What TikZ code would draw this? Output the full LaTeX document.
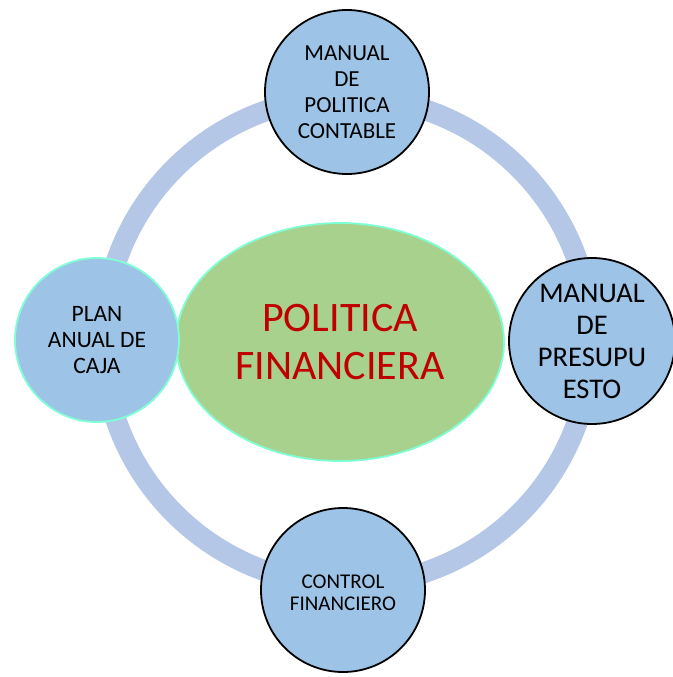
\documentclass[tikz,border=0pt]{standalone}
\usepackage{fontspec}
\setmainfont{Carlito}
\usetikzlibrary{shapes.geometric}
\definecolor{nodeblue}{HTML}{9DC3E6}
\definecolor{ringblue}{HTML}{B4C7E7}
\definecolor{ellgreen}{HTML}{A9D18E}
\definecolor{aquaedge}{HTML}{7FFFD4}
\definecolor{darkred}{HTML}{C00000}
\begin{document}
\begin{tikzpicture}[x=1pt,y=-1pt,
  satellite/.style={circle,fill=nodeblue,draw=black,line width=1.8pt,
    minimum size=164pt,inner sep=0pt,align=center,text=black,
    font=\fontsize{23}{26}\selectfont},
  bigtext/.style={font=\fontsize{28.5}{32}\selectfont},
  centre/.style={ellipse,fill=ellgreen,draw=aquaedge,line width=1.8pt,
    minimum width=328pt,minimum height=238pt,inner sep=0pt,align=center,
    text=darkred,font=\fontsize{42}{48}\selectfont},
  ring/.style={draw=ringblue,line width=21pt}]
\useasboundingbox (0,0) rectangle (672,677);
\coordinate (c) at (347,341);
\draw[ring] (c) circle[radius=244pt];
\node[centre] (pf) at (340,342) {POLITICA\\FINANCIERA};
\node[satellite] (mpc) at (347,92) {MANUAL\\DE\\POLITICA\\CONTABLE};
\node[satellite,bigtext,minimum size=166pt] (mp) at (592,341) {MANUAL\\DE\\PRESUPU\\ESTO};
\node[satellite,draw=aquaedge,font=\fontsize{23.5}{26}\selectfont] (pac) at (97,340) {PLAN\\ANUAL DE\\CAJA};
\node[satellite,font=\fontsize{21}{22.5}\selectfont] (cf) at (343,590) {\raisebox{-10pt}[0pt][0pt]{\begin{tabular}{@{}c@{}}CONTROL\\FINANCIERO\end{tabular}}};
\end{tikzpicture}
\end{document}
